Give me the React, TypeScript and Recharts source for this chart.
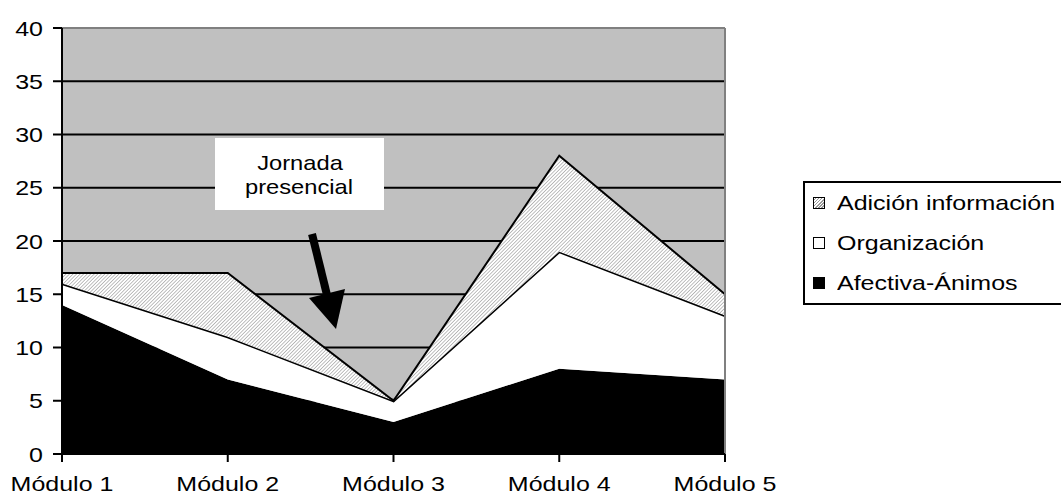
import React from "react";
import {
  AreaChart,
  Area,
  XAxis,
  YAxis,
  CartesianGrid,
  ReferenceLine,
  Legend,
} from "recharts";

const modules = ["Módulo 1", "Módulo 2", "Módulo 3", "Módulo 4", "Módulo 5"];
const afectiva = [14, 7, 3, 8, 7];
const organizacion = [2, 4, 2, 11, 6];
const adicion = [1, 6, 0, 9, 2];
const yTicks = [0, 5, 10, 15, 20, 25, 30, 35, 40];

const data = modules.map((m, i) => ({
  name: m,
  afectiva: afectiva[i],
  organizacion: organizacion[i],
  adicion: adicion[i],
}));

const FONT = "'Liberation Sans', Arial, sans-serif";
const STRETCH = 1.19;

const legendItems = [
  { label: "Adición información", swatch: "hatch" },
  { label: "Organización", swatch: "#ffffff" },
  { label: "Afectiva-Ánimos", swatch: "#000000" },
];

const XTick = (props: any) => {
  const { x, y, payload } = props;
  return (
    <g transform={`translate(${x},${y})`}>
      <text
        transform={`scale(${STRETCH},1)`}
        y={27}
        textAnchor="middle"
        fontFamily={FONT}
        fontSize={21}
        fill="#000"
      >
        {payload.value}
      </text>
    </g>
  );
};

const YTick = (props: any) => {
  const { x, y, payload } = props;
  return (
    <g transform={`translate(${x - 8},${y})`}>
      <text
        transform={`scale(${STRETCH},1)`}
        y={7.5}
        textAnchor="end"
        fontFamily={FONT}
        fontSize={21}
        fill="#000"
      >
        {payload.value}
      </text>
    </g>
  );
};

const LegendBox = () => (
  <div
    style={{
      border: "2px solid #000",
      background: "#fff",
      paddingLeft: 8,
      width: 300,
      fontFamily: FONT,
      fontSize: 21,
    }}
  >
    {legendItems.map((it) => (
      <div
        key={it.label}
        style={{ height: 40, display: "flex", alignItems: "center", whiteSpace: "nowrap" }}
      >
        <span
          style={{
            display: "inline-block",
            width: 10,
            height: 10,
            border: "1px solid #000",
            marginRight: 12,
            background:
              it.swatch === "hatch"
                ? "repeating-linear-gradient(-45deg, #fff 0 1.2px, #999 1.2px 2.2px)"
                : it.swatch,
          }}
        />
        <span
          style={{
            display: "inline-block",
            transform: `scaleX(${STRETCH})`,
            transformOrigin: "left center",
          }}
        >
          {it.label}
        </span>
      </div>
    ))}
  </div>
);

export default function App() {
  return (
    <div style={{ position: "relative", width: 1061, height: 503, overflow: "hidden", background: "#fff" }}>
      <style>{`body{margin:0;overflow:hidden}`}</style>
      <AreaChart
        width={1061}
        height={503}
        data={data}
        margin={{ top: 28, right: 336, bottom: 0, left: 0 }}
      >
        <defs>
          <pattern
            id="hatch"
            width="2.5"
            height="2.5"
            patternUnits="userSpaceOnUse"
            patternTransform="rotate(45)"
          >
            <rect width="2.5" height="2.5" fill="#ffffff" />
            <line x1="0" y1="0" x2="0" y2="2.5" stroke="#808080" strokeWidth="1" />
          </pattern>
        </defs>
        <CartesianGrid
          horizontal
          vertical={false}
          stroke="#000"
          strokeWidth={2}
          fill="#c0c0c0"
          fillOpacity={1}
        />
        <XAxis
          dataKey="name"
          height={49}
          axisLine={{ stroke: "#000", strokeWidth: 2 }}
          tickLine={{ stroke: "#000", strokeWidth: 2 }}
          tickSize={8}
          tick={<XTick />}
          interval={0}
        />
        <YAxis
          domain={[0, 40]}
          ticks={yTicks}
          width={62}
          axisLine={{ stroke: "#000", strokeWidth: 2 }}
          tickLine={{ stroke: "#000", strokeWidth: 2 }}
          tickSize={9}
          tick={<YTick />}
          interval={0}
        />
        <Area
          type="linear"
          dataKey="afectiva"
          name="Afectiva-Ánimos"
          stackId="1"
          fill="#000"
          fillOpacity={1}
          stroke="none"
          isAnimationActive={false}
        />
        <Area
          type="linear"
          dataKey="organizacion"
          name="Organización"
          stackId="1"
          fill="#fff"
          fillOpacity={1}
          stroke="#000"
          strokeWidth={3}
          isAnimationActive={false}
        />
        <Area
          type="linear"
          dataKey="adicion"
          name="Adición información"
          stackId="1"
          fill="url(#hatch)"
          fillOpacity={1}
          stroke="#000"
          strokeWidth={2}
          isAnimationActive={false}
        />
        <ReferenceLine y={40} stroke="#808080" strokeWidth={2} />
        <ReferenceLine x="Módulo 5" stroke="#808080" strokeWidth={2} />
        <Legend
          layout="horizontal"
          verticalAlign="middle"
          content={<LegendBox />}
          wrapperStyle={{ left: 803, top: 181, width: 300, height: "auto" }}
        />
      </AreaChart>
      <svg
        width={1061}
        height={503}
        style={{ position: "absolute", left: 0, top: 0, pointerEvents: "none" }}
      >
        <rect x={215} y={138} width={169} height={72} fill="#fff" />
        <g transform="translate(300,170)">
          <text transform={`scale(1.13,1)`} textAnchor="middle" fontFamily={FONT} fontSize={21}>
            Jornada
          </text>
        </g>
        <g transform="translate(299,194)">
          <text transform={`scale(1.13,1)`} textAnchor="middle" fontFamily={FONT} fontSize={21}>
            presencial
          </text>
        </g>
        <line x1={312} y1={234} x2={327} y2={295} stroke="#000" strokeWidth={8} />
        <polygon points="309,298 345,289 336,329" fill="#000" />
      </svg>
    </div>
  );
}
